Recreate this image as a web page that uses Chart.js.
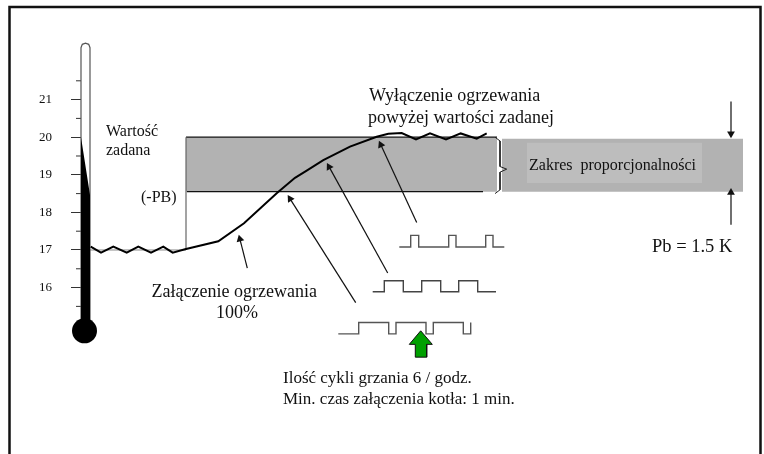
<!DOCTYPE html>
<html>
<head>
<meta charset="utf-8">
<style>
html, body { margin: 0; padding: 0; background: #fff; }
canvas { display: block; }
</style>
<script src="https://cdn.jsdelivr.net/npm/chart.js@4"></script>
</head>
<body>
<canvas id="myChart" width="764" height="454"></canvas>
<script>
// temperature ticks on the thermometer
var tickValues = [16, 17, 18, 19, 20, 21];
var minorTicks = [15.5, 16.5, 17.5, 18.5, 19.5, 20.5, 21.5];

// room temperature curve, x is just a horizontal position across the drawing
var curveX = [90.7, 101, 113.3, 126.7, 138.3, 151, 163.3, 172.7, 185, 218.3, 244, 276.7, 295, 306.7, 323.3, 350, 376.7, 388.3, 401.7, 416, 430, 446, 460.7, 476.7, 486.7];
var curveTemp = [17.09, 16.93, 17.09, 16.93, 17.09, 16.93, 17.09, 16.93, 17.02, 17.23, 17.71, 18.51, 18.92, 19.11, 19.39, 19.75, 20.01, 20.09, 20.11, 19.94, 20.10, 19.94, 20.10, 19.96, 20.10];

// set point and proportional band
var setPoint = 20;
var bandLow = 18.55;
var bandX = [186, 497, 497, 186];
var sideBandX = [502, 743, 743, 502];
var sideLabelX = [527, 702, 702, 527];
var sideLabelTemp = [19.85, 19.85, 18.78, 18.78];

// heating pulses
var pulse1X = [399.3, 410.7, 410.7, 418.7, 418.7, 448.7, 448.7, 456, 456, 485.7, 485.7, 493, 493, 504.3];
var pulse1T = [17.08, 17.08, 17.39, 17.39, 17.08, 17.08, 17.39, 17.39, 17.08, 17.08, 17.39, 17.39, 17.08, 17.08];
var pulse2X = [372.7, 384.3, 384.3, 403.3, 403.3, 421.7, 421.7, 440.7, 440.7, 458.7, 458.7, 477.7, 477.7, 496];
var pulse2T = [15.89, 15.89, 16.18, 16.18, 15.89, 15.89, 16.18, 16.18, 15.89, 15.89, 16.18, 16.18, 15.89, 15.89];
var pulse3X = [338.3, 358.7, 358.7, 388.7, 388.7, 396, 396, 426, 426, 433.3, 433.3, 463.3, 463.3, 470.7, 470.7];
var pulse3T = [14.77, 14.77, 15.07, 15.07, 14.77, 14.77, 15.07, 15.07, 14.77, 14.77, 15.07, 15.07, 14.77, 14.77, 15.07];

// thermometer
var tubeX = [81, 81, 82.3, 85.5, 88.7, 90, 90];
var tubeT = [14.9, 22.38, 22.47, 22.5, 22.47, 22.38, 14.9];
var mercuryX = [81, 90, 90, 81];
var mercuryT = [20, 18.46, 14.85, 14.85];

// leader arrows: from, to (the head is centred on the end point)
var arrowStartX = [247.3, 355.7, 387.7, 416.7, 731, 731];
var arrowStartT = [16.52, 15.6, 16.39, 17.73, 20.95, 17.67];
var arrowEndX = [239.9, 290.1, 329.1, 380.8, 731, 731];
var arrowEndT = [17.29, 18.36, 19.21, 19.8, 20.09, 18.53];

var braceX = [495, 500, 500, 506.7, 500, 500, 495];
var braceT = [20.0, 19.9, 19.22, 19.15, 19.07, 18.6, 18.5];

var greenArrowX = [420.7, 432.3, 426.7, 426.7, 415.3, 415.3, 409.3];
var greenArrowT = [14.85, 14.49, 14.49, 14.15, 14.15, 14.49, 14.49];

var frameX = [9.5, 9.5, 760.5, 760.5];
var frameT = [11.5, 23.46, 23.46, 11.5];

var yMin = 11.574;
var yMax = 23.649;
var pxPerDegree = 454 / (yMax - yMin);

function pts(xs, ys) {
    return xs.map(function(x, i) { return {x: x, y: ys[i]}; });
}

function line(xs, ys, color, width) {
    return {data: pts(xs, ys), borderColor: color, borderWidth: width, showLine: true, pointRadius: 0, fill: false};
}

function shape(xs, ys, color) {
    return {data: pts(xs.concat(xs[0]), ys.concat(ys[0])), backgroundColor: color, borderColor: color,
        borderWidth: 0, showLine: true, pointRadius: 0, fill: 'shape'};
}

function arrow(i) {
    var dx = arrowEndX[i] - arrowStartX[i];
    var dy = (arrowStartT[i] - arrowEndT[i]) * pxPerDegree;
    var angle = Math.atan2(dx, -dy) * 180 / Math.PI;
    return {
        data: pts([arrowStartX[i], arrowEndX[i]], [arrowStartT[i], arrowEndT[i]]),
        borderColor: '#111', backgroundColor: '#111', borderWidth: 1.2, showLine: true,
        pointStyle: 'triangle', pointRadius: [0, 4.5], pointRotation: [0, angle], pointBorderWidth: 0
    };
}

var datasets = [];
// first entry ends up on top
datasets.push(line(curveX, curveTemp, '#000', 2));
datasets.push(line(greenArrowX.concat(greenArrowX[0]), greenArrowT.concat(greenArrowT[0]), '#111', 1));
datasets.push(shape(greenArrowX, greenArrowT, '#00a000'));
arrowStartX.forEach(function(x, i) { datasets.push(arrow(i)); });
datasets.push(line(pulse1X, pulse1T, '#555', 1.4));
datasets.push(line(pulse2X, pulse2T, '#444', 1.4));
datasets.push(line(pulse3X, pulse3T, '#555', 1.4));
datasets.push(line(braceX, braceT, '#222', 1));
datasets.push({data: [{x: 84.5, y: 14.85}], pointStyle: 'circle', pointRadius: 12.5, backgroundColor: '#000', borderColor: '#000', pointBorderWidth: 0});
datasets.push(shape(mercuryX, mercuryT, '#000'));
datasets.push(line(tubeX, tubeT, '#555', 1.2));
datasets.push({data: pts(minorTicks.map(function() { return 78.5; }), minorTicks), pointStyle: 'line', pointRadius: 2.5, pointBorderColor: '#333', pointBorderWidth: 1});
datasets.push(line([90, 186], [17, 17], '#888', 1));
datasets.push(line([186, 186], [17, setPoint], '#666', 1.2));
datasets.push(line([186, 497], [setPoint, setPoint], '#111', 1.2));
datasets.push(line([187, 483], [bandLow, bandLow], '#111', 1.2));
datasets.push(shape(sideLabelX, sideLabelTemp, '#bdbdbd'));
datasets.push(shape(sideBandX, [19.96, 19.96, bandLow, bandLow], '#b2b2b2'));
datasets.push(shape(bandX, [setPoint, setPoint, bandLow, bandLow], '#b2b2b2'));
datasets.push(line(frameX, frameT, '#111', 2.5));
datasets.forEach(function(d) { d.clip = false; });

// the captions sit on the drawing, not on any value
var captionPlugin = {
    id: 'captions',
    afterDatasetsDraw: function(chart) {
        var ctx = chart.ctx;
        function text(str, x, y, size) {
            ctx.font = size + 'px "Liberation Serif"';
            ctx.textAlign = 'left';
            ctx.fillText(str, x, y);
        }
        ctx.save();
        ctx.fillStyle = '#111';
        ctx.textBaseline = 'alphabetic';
        text('Wyłączenie ogrzewania', 369, 101, 18);
        text('powyżej wartości zadanej', 368, 123, 18);
        text('Wartość', 106, 136, 16);
        text('zadana', 106, 155, 16);
        text('(-PB)', 141, 202, 16);
        text('Zakres  proporcjonalności', 529, 170, 16);
        text('Pb = 1.5 K', 652, 252, 18.5);
        text('Załączenie ogrzewania', 151.5, 297, 18);
        text('100%', 216, 318, 18);
        text('Ilość cykli grzania 6 / godz.', 283, 383, 17);
        text('Min. czas załączenia kotła: 1 min.', 283, 404, 17);
        ctx.restore();
    }
};

var ctx = document.getElementById('myChart').getContext('2d');
var myChart = new Chart(ctx, {
    type: 'scatter',
    data: {datasets: datasets},
    options: {
        responsive: false,
        animation: false,
        layout: {padding: 0, autoPadding: false},
        plugins: {legend: {display: false}, tooltip: {enabled: false}},
        scales: {
            x: {
                type: 'linear',
                display: false,
                // set here so the points left of the axis are still drawn
                afterBuildTicks: function(scale) {
                    scale.min = 81;
                    scale.max = 764;
                }
            },
            y: {
                type: 'linear',
                position: 'left',
                min: yMin,
                max: yMax,
                afterBuildTicks: function(scale) {
                    scale.ticks = tickValues.map(function(v) { return {value: v}; });
                },
                afterFit: function(scale) {
                    scale.width = 81;
                    scale.paddingTop = 0;
                    scale.paddingBottom = 0;
                },
                grid: {drawOnChartArea: false, tickLength: 10, tickColor: '#333'},
                border: {display: false},
                ticks: {
                    padding: 19,
                    color: '#111',
                    font: {family: '"Liberation Serif"', size: 13},
                    autoSkip: false
                }
            }
        }
    },
    plugins: [captionPlugin]
});
</script>
</body>
</html>
